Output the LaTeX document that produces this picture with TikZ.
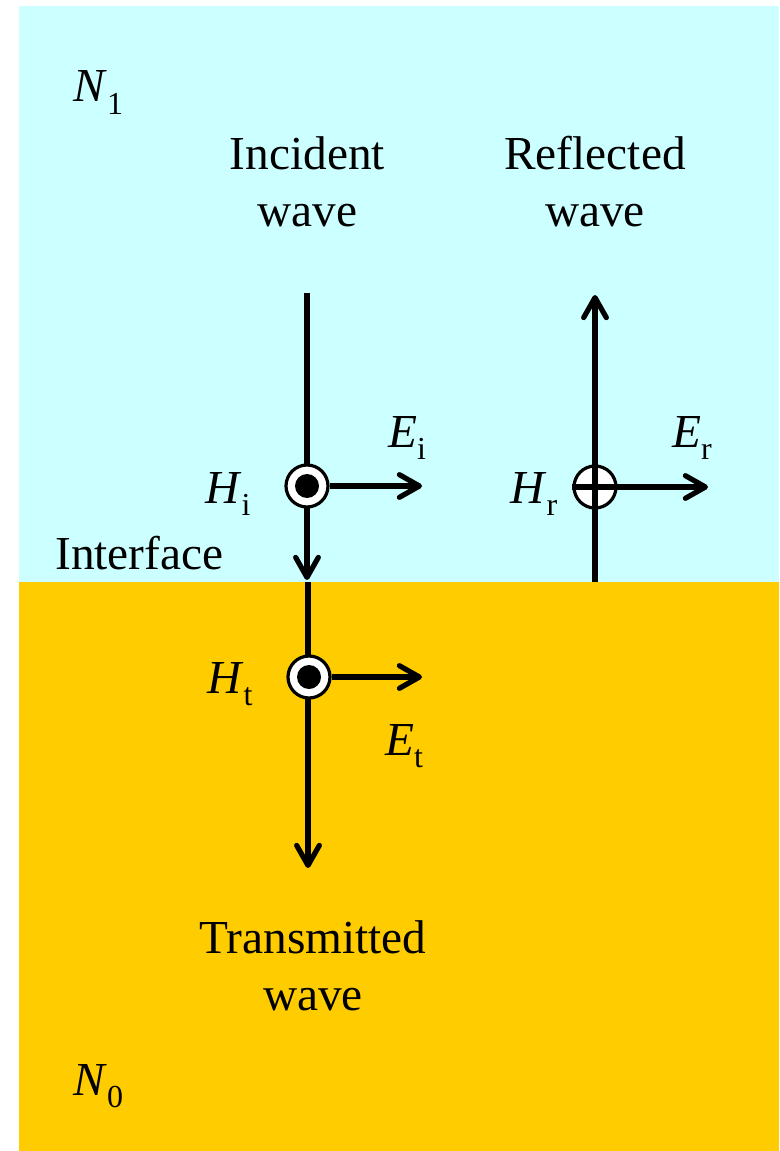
\documentclass[tikz,border=0pt]{standalone}
\usepackage{fontspec}
\setmainfont{Liberation Serif}
\usetikzlibrary{arrows.meta}
\definecolor{topcyan}{HTML}{CCFFFF}
\definecolor{botorange}{HTML}{FFCC00}
\newcommand\lowsub[1]{\raisebox{-9.5pt}{\fontsize{24}{24}\selectfont #1}}
\begin{document}
\begin{tikzpicture}[x=0.75pt,y=-0.75pt,
  lbl/.style={font=\fontsize{35.5}{42.75}\selectfont, inner sep=0pt, align=center},
  sym/.style={font=\fontsize{35.5}{42.75}\selectfont, inner sep=0pt, anchor=base west},
  wave/.style={line width=3.9pt, -{Straight Barb[length=15pt,width=17pt,line cap=round,line join=round]}},
  plain/.style={line width=3.9pt},
  hcirc/.style={circle, draw, fill=white, line width=2.4pt, minimum size=31.5pt, inner sep=0pt}]
\useasboundingbox (0,0) rectangle (779,1151);
\fill[topcyan] (19,6) rectangle (779,582);
\fill[botorange] (19,582) rectangle (779,1151);

% labels
\node[sym] (n1) at (73,102) {\textit{N}\lowsub{1}};
\node[sym] (n0) at (73,1095) {\textit{N}\lowsub{0}};
\node[lbl, anchor=base] (inc) at (307.5,227) {Incident\\wave};
\node[lbl, anchor=base] (ref) at (595,227) {Reflected\\wave};
\node[sym] (intf) at (55,569) {Interface};
\node[lbl, anchor=base] (tra) at (313,1010) {Transmitted\\wave};

% incident
\coordinate (itop) at (307,293);
\coordinate (ibot) at (307,580);
\draw[wave] (itop) -- (ibot);
\node[hcirc] (Hi) at (307,486) {};
\fill (Hi.center) circle (9pt);
\coordinate (Eiend) at (422,486);
\draw[wave] (Hi.east) -- (Eiend);
\node[sym] (Hil) at (205,503) {\textit{H}\lowsub{i}};
\node[sym] (Eil) at (388,447) {\textit{E}\lowsub{i}};

% transmitted
\coordinate (ttop) at (308,582);
\coordinate (tbot) at (308,868);
\draw[wave] (ttop) -- (tbot);
\node[hcirc] (Ht) at (309,677) {};
\fill (Ht.center) circle (9pt);
\coordinate (Etend) at (422,677);
\draw[wave] (Ht.east) -- (Etend);
\node[sym] (Htl) at (207,693) {\textit{H}\lowsub{t}};
\node[sym] (Etl) at (385,755) {\textit{E}\lowsub{t}};

% reflected
\coordinate (rbot) at (595,582);
\coordinate (rtop) at (595,295);
\draw[wave] (rbot) -- (rtop);
\node[hcirc] (Hr) at (595,487) {};
\draw[plain] (Hr.north) -- (Hr.south);
\coordinate (Erend) at (708,487);
\draw[wave] (Hr.west) -- (Erend);
\node[sym] (Hrl) at (510,503) {\textit{H}\lowsub{r}};
\node[sym] (Erl) at (672,447) {\textit{E}\lowsub{r}};
\end{tikzpicture}
\end{document}
